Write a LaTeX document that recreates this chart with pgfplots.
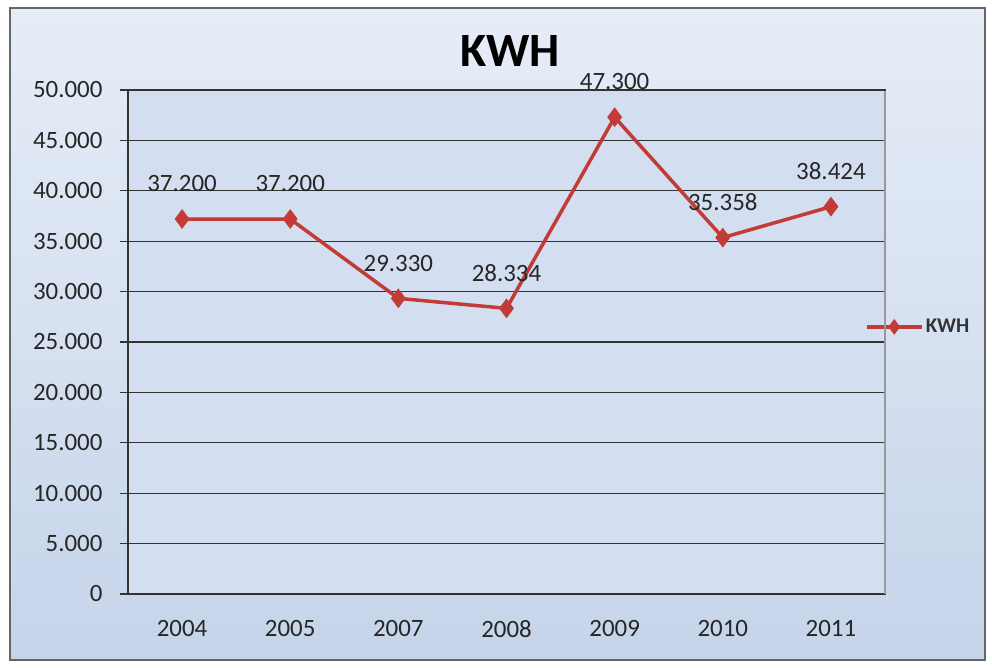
\documentclass[border=0pt]{standalone}
\usepackage{pgfplots}
\pgfplotsset{compat=1.18}
\usepackage{fontspec}
\setmainfont{Carlito}
\definecolor{bgtop}{HTML}{E6EDF7}
\definecolor{bgbot}{HTML}{C6D4EA}
\definecolor{plotbg}{HTML}{D3DEF0}
\definecolor{kwh}{HTML}{C23B36}
\begin{document}
\begin{tikzpicture}[x=1bp,y=1bp]
\fill[white] (0,0) rectangle (992,668);
\shade[top color=bgtop,bottom color=bgbot] (10,8) rectangle (985,660);
\draw[black!60,line width=2.5bp] (10,8) rectangle (985,660);
\begin{axis}[at={(128bp,74bp)},anchor=south west,scale only axis,
  width=757bp,height=504bp,
  xmin=-0.5,xmax=6.5,ymin=0,ymax=50000,
  xtick={0,...,6},xticklabels={2004,2005,2007,2008,2009,2010,2011},
  ytick={0,5000,...,50000},
  scaled y ticks=false,
  ytick pos=left,
  axis background/.style={fill=plotbg},
  ymajorgrids, grid style={black!80,line width=1.3bp},
  axis line style={black!80,line width=1.3bp},
  tick align=outside, major tick length=8bp,
  xtick style={draw=none},
  ytick style={black!80,line width=1.2bp},
  /pgf/number format/.cd,1000 sep={.},assume math mode=true,
  /pgfplots/.cd,
  yticklabel style={font=\fontsize{25}{30}\selectfont,text=black!85,xshift=-14bp},
  xticklabel style={font=\fontsize{25}{30}\selectfont,text=black!85,yshift=-15bp},
  title={\fontsize{48}{56}\selectfont\bfseries KWH},
  title style={yshift=14bp,xshift=4bp},
  legend style={at={(0.97,0.53)},anchor=west,draw=none,fill=none,
    font=\fontsize{21}{25}\selectfont\bfseries,text=black!80},
  legend image code/.code={\draw[mark repeat=2,mark phase=2,mark size=5bp,#1] plot coordinates {(0bp,0bp) (27bp,0bp) (55bp,0bp)};},
  nodes near coords,
  every node near coord/.append style={font=\fontsize{25}{30}\selectfont,text=black!85,anchor=south,yshift=22bp},
]
\addplot[kwh,line width=3.5bp,mark=diamond*,mark size=7bp,mark options={fill=kwh}]
  coordinates {(0,37200) (1,37200) (2,29330) (3,28334) (4,47300) (5,35358) (6,38424)};
\addlegendentry{KWH}
\end{axis}
\draw[black!40,line width=1.3bp] (885,74) -- (885,577);
\end{tikzpicture}
\end{document}
